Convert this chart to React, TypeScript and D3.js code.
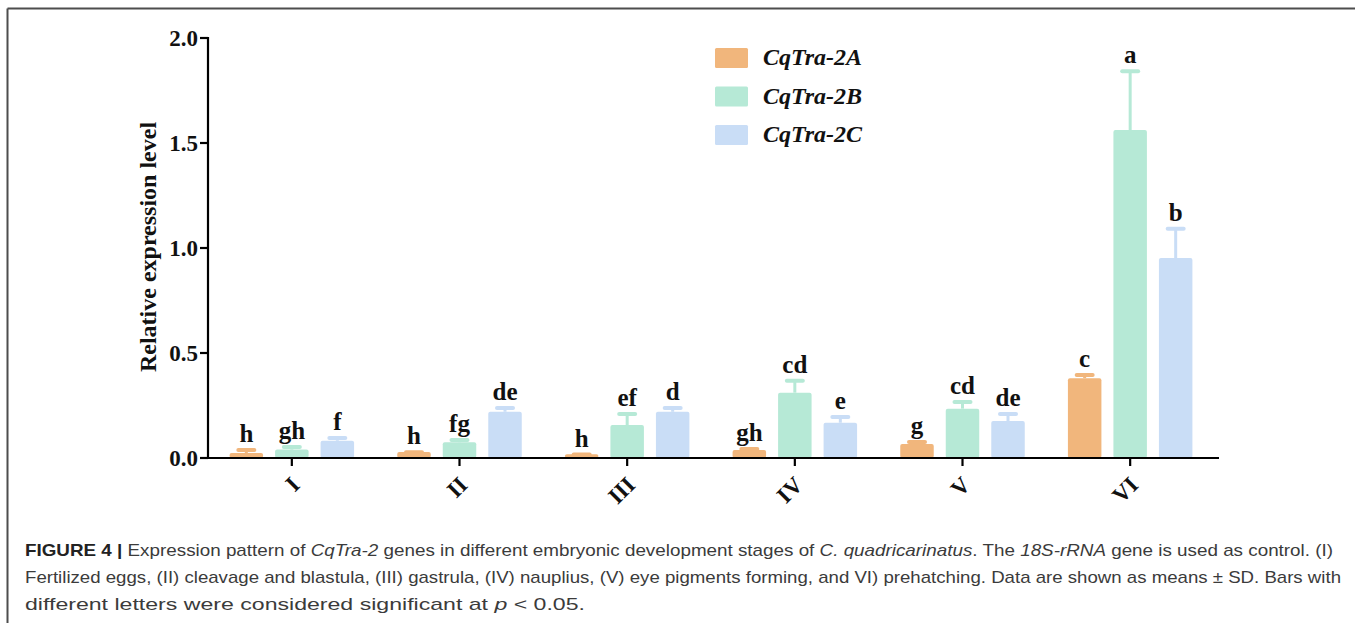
import * as d3 from "d3";

// ---------------------------------------------------------------------------
// Data
// ---------------------------------------------------------------------------

const STAGES = ["I", "II", "III", "IV", "V", "VI"];
const SERIES = ["CqTra-2A", "CqTra-2B", "CqTra-2C"];

const MEAN_A = [0.024, 0.028, 0.018, 0.038, 0.067, 0.38];
const SD_A = [0.019, 0.004, 0.003, 0.01, 0.014, 0.02];
const MEAN_B = [0.04, 0.075, 0.157, 0.311, 0.235, 1.562];
const SD_B = [0.017, 0.015, 0.057, 0.062, 0.036, 0.284];
const MEAN_C = [0.082, 0.22, 0.22, 0.168, 0.176, 0.952];
const SD_C = [0.018, 0.023, 0.023, 0.032, 0.038, 0.145];

const LETTERS_A = ["h", "h", "h", "gh", "g", "c"];
const LETTERS_B = ["gh", "fg", "ef", "cd", "cd", "a"];
const LETTERS_C = ["f", "de", "d", "e", "de", "b"];

const Y_TICKS = [0, 0.5, 1.0, 1.5, 2.0];

// ---------------------------------------------------------------------------
// Style
// ---------------------------------------------------------------------------

const COLORS = ["#f1b67c", "#b6e9d6", "#c9ddf6"];
const SERIF = "'Liberation Serif', 'Times New Roman', serif";
const SANS = "'Liberation Sans Narrow', 'Liberation Sans', Roboto, sans-serif";
const CAPTION_FILL = "#3b3b3b";

const W = 1355;
const H = 623;
const PLOT = { left: 208, right: 1214, top: 38, bottom: 458 };

export default function App() {
  const x = d3.scaleBand<string>().domain(STAGES).range([PLOT.left, PLOT.right]);
  const inner = d3
    .scaleBand<string>()
    .domain(SERIES)
    .range([-62.25, 62.25])
    .paddingInner(0.264);
  const y = d3.scaleLinear().domain([0, 2]).range([PLOT.bottom, PLOT.top]);
  const fmt = d3.format(".1f");

  const groups = [
    { name: SERIES[0], mean: MEAN_A, sd: SD_A, letters: LETTERS_A, color: COLORS[0] },
    { name: SERIES[1], mean: MEAN_B, sd: SD_B, letters: LETTERS_B, color: COLORS[1] },
    { name: SERIES[2], mean: MEAN_C, sd: SD_C, letters: LETTERS_C, color: COLORS[2] },
  ];
  const bw = inner.bandwidth();

  return (
    <svg
      width={W}
      height={H}
      style={{ position: "absolute", left: 0, top: 0, background: "white" }}
    >
      {/* page frame */}
      <line x1={7.5} y1={8.5} x2={W} y2={8.5} stroke="#4d4d4d" strokeWidth={2} />
      <line x1={7.5} y1={8.5} x2={7.5} y2={H} stroke="#4d4d4d" strokeWidth={2} />

      {/* Bars, error bars, letters */}
      {groups.map((g) =>
        STAGES.map((s, i) => {
          const cx = x(s)! + x.bandwidth() / 2 + inner(g.name)! + bw / 2;
          const top = y(g.mean[i]);
          const capY = y(g.mean[i] + g.sd[i]);
          return (
            <g key={`${g.name}-${s}`}>
              <line x1={cx} x2={cx} y1={top} y2={capY} stroke={g.color} strokeWidth={3} />
              <line
                x1={cx - 8}
                x2={cx + 8}
                y1={capY + 1}
                y2={capY + 1}
                stroke={g.color}
                strokeWidth={4}
                strokeLinecap="round"
              />
              <rect
                x={cx - bw / 2}
                y={top}
                width={bw}
                height={PLOT.bottom - top}
                rx={2}
                fill={g.color}
              />
              <text
                x={cx}
                y={capY - 7}
                textAnchor="middle"
                fontFamily={SERIF}
                fontWeight="bold"
                fontSize={25}
                fill="#111"
              >
                {g.letters[i]}
              </text>
            </g>
          );
        }),
      )}

      {/* Y axis */}
      <line x1={PLOT.left} x2={PLOT.left} y1={PLOT.top - 1} y2={PLOT.bottom + 1} stroke="#000" strokeWidth={2.2} />
      {Y_TICKS.map((t) => (
        <g key={`yt${t}`}>
          <line x1={PLOT.left - 8} x2={PLOT.left} y1={y(t)} y2={y(t)} stroke="#000" strokeWidth={2.2} />
          <text
            x={PLOT.left - 10}
            y={y(t)}
            dy="0.35em"
            textAnchor="end"
            fontFamily={SERIF}
            fontWeight="bold"
            fontSize={23}
            fill="#111"
          >
            {fmt(t)}
          </text>
        </g>
      ))}
      <text
        transform={`translate(156,${(PLOT.top + PLOT.bottom) / 2 - 1}) rotate(-90)`}
        textAnchor="middle"
        fontFamily={SERIF}
        fontWeight="bold"
        fontSize={24}
        fill="#111"
      >
        Relative expression level
      </text>

      {/* X axis */}
      <line x1={PLOT.left} x2={1219} y1={PLOT.bottom} y2={PLOT.bottom} stroke="#000" strokeWidth={2.2} />
      {STAGES.map((s) => {
        const cx = x(s)! + x.bandwidth() / 2;
        return (
          <g key={`xt${s}`}>
            <line x1={cx} x2={cx} y1={PLOT.bottom} y2={PLOT.bottom + 8} stroke="#000" strokeWidth={2.2} />
            <text
              transform={`translate(${cx + 4},${PLOT.bottom + 23}) rotate(-45)`}
              textAnchor="end"
              dominantBaseline="central"
              fontFamily={SERIF}
              fontWeight="bold"
              fontSize={23}
              fill="#111"
            >
              {s}
            </text>
          </g>
        );
      })}

      {/* Legend */}
      {SERIES.map((name, i) => (
        <g key={`lg${name}`} transform={`translate(715,${48 + i * 38.5})`}>
          <rect width={33} height={20} rx={1.5} fill={COLORS[i]} />
          <text
            x={48}
            y={17}
            fontFamily={SERIF}
            fontWeight="bold"
            fontStyle="italic"
            fontSize={24}
            fill="#111"
          >
            {name}
          </text>
        </g>
      ))}

      {/* Caption */}
      <g fontFamily={SANS} fontSize={17} fill={CAPTION_FILL}>
        <text x={25} y={556} textLength={1308} lengthAdjust="spacingAndGlyphs">
          <tspan fontWeight="bold" fill="#222">FIGURE 4 |</tspan>
          <tspan> Expression pattern of </tspan>
          <tspan fontStyle="italic">CqTra-2</tspan>
          <tspan> genes in different embryonic development stages of </tspan>
          <tspan fontStyle="italic">C. quadricarinatus</tspan>
          <tspan>. The </tspan>
          <tspan fontStyle="italic">18S-rRNA</tspan>
          <tspan> gene is used as control. (I)</tspan>
        </text>
        <text x={25} y={583} textLength={1316} lengthAdjust="spacingAndGlyphs">
          Fertilized eggs, (II) cleavage and blastula, (III) gastrula, (IV) nauplius, (V) eye pigments forming, and VI)
          prehatching. Data are shown as means ± SD. Bars with
        </text>
        <text x={25} y={610} textLength={560} lengthAdjust="spacingAndGlyphs">
          <tspan>different letters were considered significant at </tspan>
          <tspan fontStyle="italic">p</tspan>
          <tspan> &lt; 0.05.</tspan>
        </text>
      </g>
    </svg>
  );
}
